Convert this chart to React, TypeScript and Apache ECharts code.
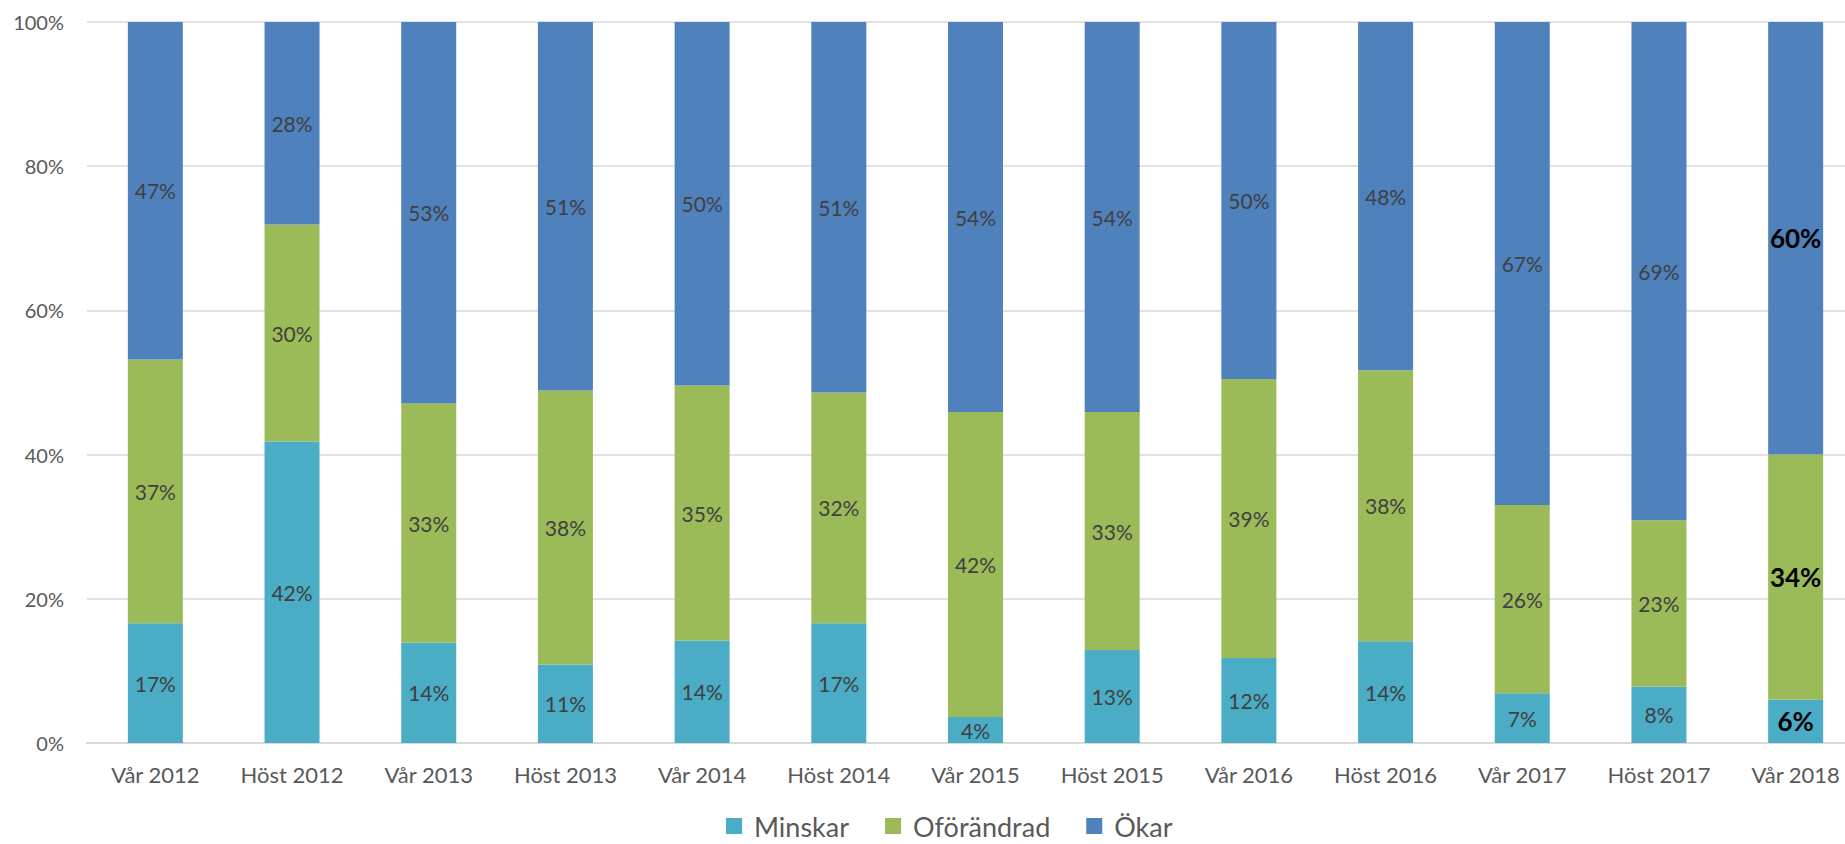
import React, { useEffect, useRef } from "react";
import * as echarts from "echarts";

const categories = [
  "Vår 2012", "Höst 2012", "Vår 2013", "Höst 2013", "Vår 2014", "Höst 2014", "Vår 2015",
  "Höst 2015", "Vår 2016", "Höst 2016", "Vår 2017", "Höst 2017", "Vår 2018",
];
const seriesNames = ["Minskar", "Oförändrad", "Ökar"];
const minskar = [16.6, 41.8, 13.9, 10.9, 14.2, 16.6, 3.6, 12.9, 11.8, 14.1, 6.9, 7.8, 6.0];
const oforandrad = [36.6, 30.1, 33.2, 38.0, 35.4, 32.0, 42.3, 33.0, 38.7, 37.6, 26.1, 23.1, 34.0];
const okar = [46.8, 28.1, 52.9, 51.1, 50.4, 51.4, 54.1, 54.1, 49.5, 48.3, 67.0, 69.1, 60.0];
const yTicks = [0, 20, 40, 60, 80, 100];
const colors = ["#4BACC6", "#9BBB59", "#4F81BD"];

const FONT = "Lato, 'Open Sans', sans-serif";

export default function App() {
  const ref = useRef<HTMLDivElement>(null);
  useEffect(() => {
    if (!ref.current) return;
    const chart = echarts.init(ref.current, undefined, { renderer: "svg" });
    const lastIdx = categories.length - 1;
    const mkData = (arr: number[]) =>
      arr.map((v, i) =>
        i === lastIdx
          ? { value: v, label: { fontWeight: "bold", color: "#000000", fontSize: 26 } }
          : { value: v }
      );
    const all = [minskar, oforandrad, okar];
    chart.setOption({
      animation: false,
      textStyle: { fontFamily: FONT },
      color: colors,
      grid: {
        left: 87,
        top: 22,
        right: 0,
        height: 721,
        containLabel: false,
        outerBoundsMode: "none",
      },
      legend: {
        data: seriesNames,
        left: 721,
        top: 807,
        itemWidth: 16,
        itemHeight: 16,
        itemGap: 36,
        icon: "rect",
        textStyle: {
          fontSize: 27,
          lineHeight: 28,
          color: "#595959",
          fontFamily: FONT,
          padding: [0, 0, 0, 7],
        },
      },
      xAxis: {
        type: "category",
        data: categories,
        axisTick: { show: false },
        axisLine: { lineStyle: { color: "#D9D9D9", width: 2 } },
        axisLabel: { fontSize: 22, color: "#595959", margin: 20, fontFamily: FONT },
      },
      yAxis: {
        type: "value",
        min: yTicks[0],
        max: yTicks[yTicks.length - 1],
        interval: 20,
        axisLine: { show: false },
        axisTick: { show: false },
        axisLabel: { formatter: "{value}%", fontSize: 20, color: "#595959", margin: 23, fontFamily: FONT },
        splitLine: { lineStyle: { color: "#D9D9D9", width: 1.5 } },
      },
      series: seriesNames.map((name, k) => ({
        name,
        type: "bar",
        stack: "total",
        barWidth: 55,
        data: mkData(all[k]),
        label: {
          show: true,
          position: "inside",
          fontSize: 21,
          color: "#404040",
          fontFamily: FONT,
          formatter: (p: any) => Math.round(p.value) + "%",
        },
      })),
    });
    return () => chart.dispose();
  }, []);
  return (
    <div
      ref={ref}
      style={{ position: "fixed", left: 0, top: 0, width: 1864, height: 844, background: "#fff" }}
    />
  );
}
